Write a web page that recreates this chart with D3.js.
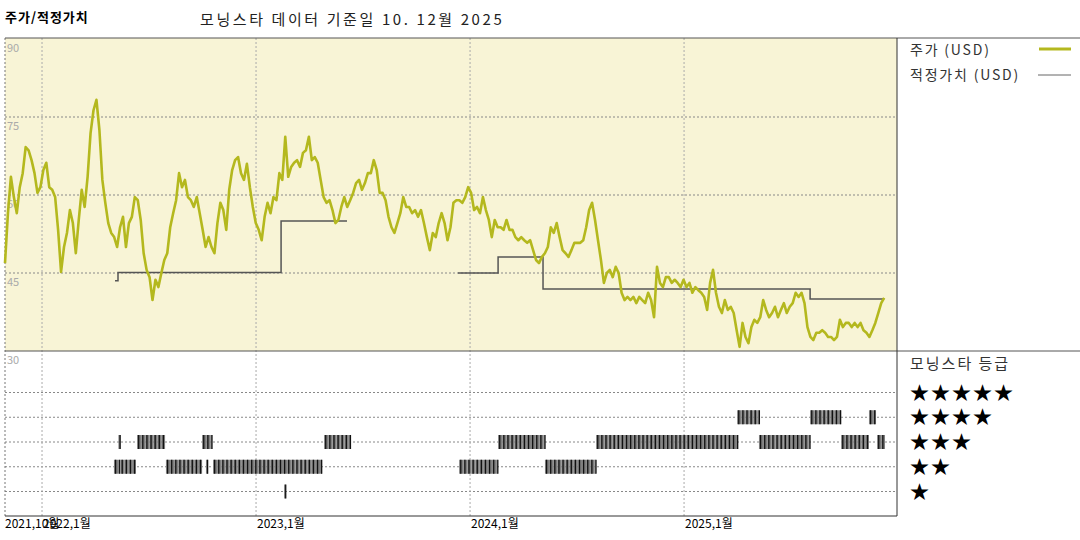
<!DOCTYPE html>
<html><head><meta charset="utf-8">
<script src="https://cdn.jsdelivr.net/npm/d3@7"></script>
<style>body{margin:0;background:#fff}text{font-family:"Noto Sans CJK KR","DejaVu Sans",sans-serif}</style>
</head><body><svg id="c" width="1080" height="540"></svg>
<script>
// ---- data ----
const priceStart = 2021.827, priceEnd = 2025.935;
const prices = [46.9,56.5,63.5,59.6,56.5,61.5,64.2,69.2,68.6,66.7,64.2,60.4,61.5,64.8,66.2,61.5,61,59.6,53.3,45.2,50,52.7,57.1,54.6,48.8,55.2,61,57.7,63.5,71.9,76.3,78.3,72.5,62.9,58.5,54.6,52.7,51.9,50,53.8,55.8,50,54.6,55.8,59.6,59,55.2,48.8,45.6,44.2,39.8,43.7,42.3,45,47.5,48.8,53.8,56.5,59,64.2,61.5,62.9,59.6,59,57.7,59.6,56.5,53.3,50,51.9,50,48.8,54.6,58.5,57.1,53.3,61,64.8,66.7,
67.3,64.2,62.9,66,61.5,57.7,54.6,53.3,51.3,55.8,58.5,56.5,59.6,59,64.2,62.9,71.2,63.5,65.4,66.2,66.7,65.4,68.1,68.6,71.2,66.7,67.3,66.2,62.9,59.6,58.5,59,57.1,54.6,55.2,57.7,59.6,57.7,59,60.4,62.3,62.9,61,62.3,64.2,64.2,66.7,64.8,60.4,60.4,59,55.8,53.8,52.7,54.6,56.5,59.6,57.7,57.7,56.5,57.1,55.8,57.1,54.6,51.9,49.4,52.7,51.9,54.6,56.5,54.6,51.3,53.8,58.5,59,59,
58.5,59.6,61.5,60.4,57.1,57.7,56.5,59.6,57.1,55.2,51.9,55.2,53.8,53.8,53.3,55.2,53.3,53.3,51.9,51.3,51.9,51.3,50.8,51.3,49.4,47.5,46.9,48.1,48.8,50,53.8,52.7,54.6,51.9,49.4,48.8,48.1,49.4,50.8,50.8,50.8,51.3,53.8,57.1,58.5,55.2,51.3,47.5,43.1,45,45.6,44.2,46.2,45,41.2,39.8,40.4,39.8,40.4,39.2,40.4,39.8,39.2,41.2,39.8,36.5,46.2,43.1,42.3,44.2,44.2,43.1,43.7,43.1,42.3,
43.7,42.3,43.1,41.2,42.3,41.7,41.2,40.4,37.9,43.1,45.6,41.2,38.5,37.3,39.8,37.9,38.5,37.3,34,30.8,35.4,32.7,31.5,34.6,36,35.4,36.5,39.8,37.9,36.5,37.3,38.5,36.5,37.9,39.2,37.3,38.5,39.2,41.2,40.4,41.2,39.2,34.6,32.7,32.1,33.5,33.5,34,33.5,32.7,32.7,32.1,32.7,36,34.6,35.4,35.4,34.6,35.4,34.6,35.4,34,33.5,32.7,34,35.4,37.3,39.2,40.2];
// fair value change points [decimal year, value]; null = no estimate
const fairValue = [[2022.341,43.5],[2022.355,45.1],[2023.117,55.0],[2023.425,55.0],[2023.426,null],
  [2023.944,45.0],[2024.131,48.1],[2024.341,41.9],[2025.589,40.0],[2025.935,40.0]];
// rating segments [from, to, stars]
const ratings = [[2022.336,2022.357,2],[2022.357,2022.367,3],[2022.367,2022.439,2],[2022.444,2022.575,3],[2022.579,2022.748,2],
  [2022.748,2022.794,3],[2022.766,2022.775,2],[2022.799,2023.308,2],[2023.318,2023.435,3],[2023.131,2023.136,1],
  [2023.949,2024.126,2],[2024.131,2024.346,3],[2024.350,2024.584,2],[2024.589,2025.248,3],[2025.248,2025.350,4],
  [2025.350,2025.584,3],[2025.589,2025.734,4],[2025.734,2025.864,3],[2025.864,2025.897,4],[2025.902,2025.939,3]];
const yTicks = [90,75,60,45,30];
const xTicks = [2022,2023,2024,2025];
const xTickLabels = ["2022,1월","2023,1월","2024,1월","2025,1월"];
const startLabel = "2021,10월";

// ---- layout ----
const svg = d3.select("#c");
const L=5, R=897, T=38, PB=351, B=516;
const x = d3.scaleLinear().domain([2021.827,2025.995]).range([L,R]);
const y = d3.scaleLinear().domain([30,90]).range([PB,39]);
const ry = d3.scaleLinear().domain([5,1]).range([392.5,491.5]);

svg.append("rect").attr("x",L).attr("y",T).attr("width",R-L).attr("height",PB-T).attr("fill","#f8f4d6");
const dash="2,2", gc="#888";
yTicks.slice(1,4).forEach(v=>svg.append("line").attr("x1",L).attr("x2",R).attr("y1",y(v)).attr("y2",y(v)).attr("stroke",gc).attr("stroke-dasharray",dash));
[5,4,3,2,1].forEach(s=>svg.append("line").attr("x1",L).attr("x2",R).attr("y1",ry(s)).attr("y2",ry(s)).attr("stroke",gc).attr("stroke-dasharray",dash));
xTicks.forEach(t=>svg.append("line").attr("x1",x(t)).attr("x2",x(t)).attr("y1",T).attr("y2",B).attr("stroke","#aaa").attr("stroke-dasharray",dash));
svg.append("line").attr("x1",L).attr("x2",L).attr("y1",T).attr("y2",B).attr("stroke","#777").attr("stroke-dasharray",dash);
yTicks.forEach(v=>svg.append("text").attr("x",L+2).attr("y",y(v)+13).attr("font-size",11).attr("fill","#aaa").text(v));

// ratings
const wk=1/52;
ratings.forEach(([a,b,s])=>{
  const g=svg.append("g");
  d3.range(a,b,wk).forEach(w=>{
    const w2=Math.min(w+wk,b);
    g.append("rect").attr("x",x(w)).attr("y",ry(s)-7).attr("width",Math.max(1.5,x(w2)-x(w))).attr("height",14).attr("fill","#808080");
    g.append("rect").attr("x",x(w)+1).attr("y",ry(s)-7).attr("width",1.3).attr("height",14).attr("fill","#111");
  });
});

// fair value
svg.append("path").datum(fairValue).attr("fill","none").attr("stroke","#555").attr("stroke-width",1.5)
  .attr("d",d3.line().defined(d=>d[1]!==null).x(d=>x(d[0])).y(d=>y(d[1])).curve(d3.curveStepAfter));
// price
const step=(priceEnd-priceStart)/(prices.length-1);
svg.append("path").datum(prices).attr("fill","none").attr("stroke","#b4b81e").attr("stroke-width",2.6).attr("stroke-linejoin","round")
  .attr("d",d3.line().x((d,i)=>x(priceStart+i*step)).y(d=>y(d)));

// frame
svg.append("line").attr("x1",L).attr("x2",1080).attr("y1",T).attr("y2",T).attr("stroke","#555");
svg.append("line").attr("x1",L).attr("x2",1080).attr("y1",PB).attr("y2",PB).attr("stroke","#555");
svg.append("line").attr("x1",L).attr("x2",R).attr("y1",B).attr("y2",B).attr("stroke","#333");
svg.append("line").attr("x1",R).attr("x2",R).attr("y1",T).attr("y2",B).attr("stroke","#333");

// x labels
svg.append("text").attr("x",L).attr("y",B+12).attr("font-size",12).text(startLabel);
xTicks.forEach((t,i)=>svg.append("text").attr("x",x(t)+1).attr("y",B+12).attr("font-size",12).text(xTickLabels[i]));

// titles
svg.append("text").attr("x",5).attr("y",22).attr("font-size",13).attr("font-weight","bold").attr("letter-spacing",1).text("주가/적정가치");
svg.append("text").attr("x",200).attr("y",25).attr("font-size",15).attr("fill","#222").attr("letter-spacing",2.6).text("모닝스타 데이터 기준일 10. 12월 2025");

// legend
svg.append("text").attr("x",910).attr("y",55).attr("font-size",14).attr("fill","#333").attr("letter-spacing",1.8).text("주가 (USD)");
svg.append("line").attr("x1",1039).attr("x2",1071).attr("y1",49).attr("y2",49).attr("stroke","#b4b81e").attr("stroke-width",3);
svg.append("text").attr("x",910).attr("y",80).attr("font-size",14).attr("fill","#333").attr("letter-spacing",1.8).text("적정가치 (USD)");
svg.append("line").attr("x1",1038).attr("x2",1071).attr("y1",75).attr("y2",75).attr("stroke","#666").attr("stroke-width",1);
svg.append("text").attr("x",910).attr("y",369).attr("font-size",15).attr("fill","#333").attr("letter-spacing",2).text("모닝스타 등급");
[5,4,3,2,1].forEach(s=>svg.append("text").attr("x",910).attr("y",ry(s)+7).attr("font-size",19).attr("letter-spacing",2).attr("font-family","DejaVu Sans").attr("fill","#000").text("★".repeat(s)));
</script></body></html>
